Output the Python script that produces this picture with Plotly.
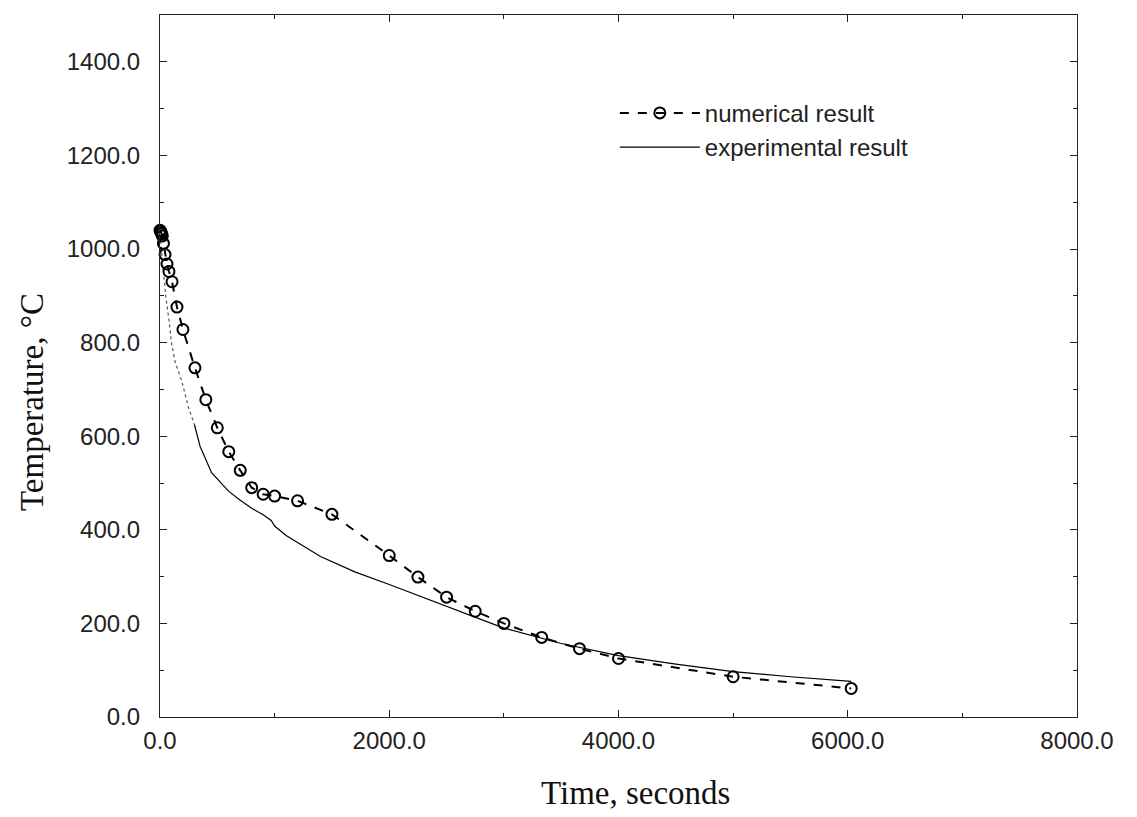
import plotly.graph_objects as go

# Numerical result (open circles, dashed)
num_time = [0, 5, 10, 15, 20, 30, 44, 61, 78, 105, 148, 200, 305, 400, 500,
            600, 700, 800, 900, 1000, 1200, 1500, 2000, 2250, 2500, 2750,
            3000, 3330, 3660, 4000, 5000, 6030]
num_temp = [1040, 1038, 1035, 1032, 1028, 1012, 988, 968, 952, 930, 876, 828,
            746, 678, 618, 567, 527, 490, 476, 472, 462, 433, 345, 299, 256,
            226, 200, 170, 146, 125, 86, 61]

# Experimental result (solid line)
exp_time = [0, 20, 50, 80, 100, 130, 190, 250, 300, 350, 450, 600, 700, 800,
            900, 970, 1000, 1100, 1400, 1700, 2000, 2500, 3000, 3500, 4000,
            4500, 5000, 5500, 6030]
exp_temp = [1030, 980, 900, 845, 800, 760, 718, 660, 625, 578, 522, 482, 463,
            446, 432, 420, 408, 388, 343, 310, 283, 236, 190, 157, 131,
            113, 97, 86, 76]

x_ticks = [0, 2000, 4000, 6000, 8000]
y_ticks = [0, 200, 400, 600, 800, 1000, 1200, 1400]

split = 9  # early part of the experimental curve appears faint/dotted

fig = go.Figure()
fig.add_trace(go.Scatter(
    x=exp_time[:split], y=exp_temp[:split], mode="lines",
    line=dict(color="#555555", width=1.2, dash="dot"),
    showlegend=False, hoverinfo="skip", cliponaxis=False))
fig.add_trace(go.Scatter(
    x=num_time, y=num_temp, mode="lines+markers", name="numerical result",
    line=dict(color="black", width=2, dash="dash"),
    marker=dict(symbol="circle-open", size=11, color="black",
                line=dict(width=2, color="black")),
    cliponaxis=False))
fig.add_trace(go.Scatter(
    x=exp_time[split - 1:], y=exp_temp[split - 1:], mode="lines",
    name="experimental result",
    line=dict(color="black", width=1.2)))

axis_common = dict(
    showline=True, linecolor="#222222", linewidth=1.2, mirror="ticks",
    ticks="inside", ticklen=7, tickcolor="#222222", showgrid=False,
    zeroline=False, tickformat=".1f", automargin=False,
    tickfont=dict(family="Liberation Sans, Arial", size=24, color="#222222"),
)

fig.update_xaxes(**axis_common, range=[0, 8000], tickvals=x_ticks,
                 ticklabelstandoff=2,
                 minor=dict(ticks="inside", ticklen=4, dtick=1000, tickcolor="#222222"))
fig.update_yaxes(**axis_common, range=[0, 1500], tickvals=y_ticks,
                 ticklabelstandoff=14,
                 minor=dict(ticks="inside", ticklen=4, dtick=100, tickcolor="#222222"))

title_font = dict(family="Liberation Serif, Times New Roman", size=33, color="#111111")
fig.add_annotation(text="Time, seconds", xref="paper", yref="paper",
                   x=0.519, y=-0.108, xanchor="center", yanchor="middle",
                   showarrow=False, font=title_font)
fig.add_annotation(text="Temperature, °C", xref="paper", yref="paper",
                   x=-0.1396, y=0.4487, xanchor="center", yanchor="middle",
                   textangle=-90, showarrow=False, font=title_font)

fig.update_layout(
    width=1129, height=809,
    margin=dict(l=152, r=60, t=7, b=100),
    plot_bgcolor="white", paper_bgcolor="white",
    legend=dict(x=0.496, y=0.892, xanchor="left", yanchor="top",
                bgcolor="rgba(0,0,0,0)", borderwidth=0,
                font=dict(family="Liberation Sans, Arial", size=24, color="#222222"),
                itemwidth=80, tracegroupgap=0),
)

fig.write_html("out.html")
